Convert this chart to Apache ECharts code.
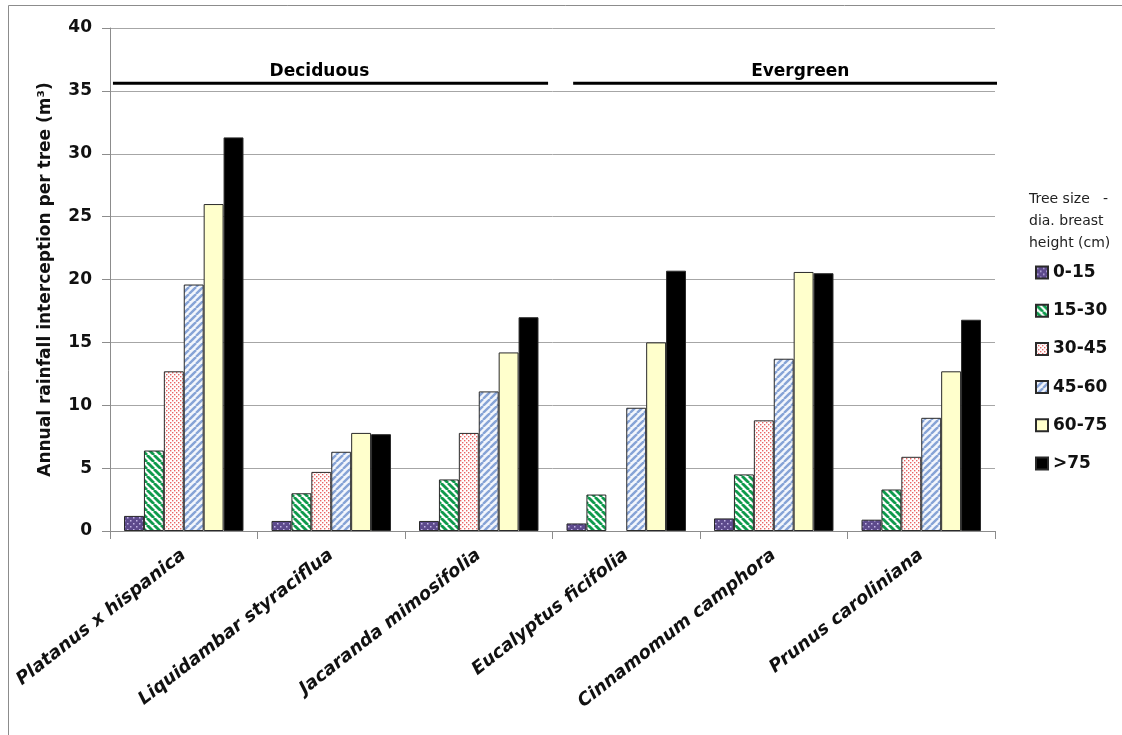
<!DOCTYPE html>
<html><head><meta charset="utf-8">
<script src="https://cdn.jsdelivr.net/npm/echarts@6/dist/echarts.min.js"></script>
<style>html,body{margin:0;padding:0;background:#fff}#c{width:1122px;height:735px}</style>
</head><body><div id="c"></div><script>
// ---- data ----
const species = ['Platanus x hispanica','Liquidambar styraciflua','Jacaranda mimosifolia','Eucalyptus ficifolia','Cinnamomum camphora','Prunus caroliniana'];
const sizeClasses = ['0-15','15-30','30-45','45-60','60-75','>75'];
const size0_15  = [1.2, 0.8, 0.8, 0.6, 1.0, 0.9];
const size15_30 = [6.4, 3.0, 4.1, 2.9, 4.5, 3.3];
const size30_45 = [12.7, 4.7, 7.8, null, 8.8, 5.9];
const size45_60 = [19.6, 6.3, 11.1, 9.8, 13.7, 9.0];
const size60_75 = [26.0, 7.8, 14.2, 15.0, 20.6, 12.7];
const size75up  = [31.3, 7.7, 17.0, 20.7, 20.5, 16.8];
const yTickLabels = ['0','5','10','15','20','25','30','35','40'];
const groupNames = ['Deciduous', 'Evergreen'];
const groupFrom = [0.02, 3.14];      // in category units along the axis
const groupTo = [2.97, 6.08];
const groupLineLevel = 35.6;
const groupLabelAt = [1.42, 4.68];
const groupLabelLevel = 36.55;

// ---- patterns ----
function tile(w, h, draw) {
  const c = document.createElement('canvas');
  c.width = w; c.height = h;
  const g = c.getContext('2d');
  draw(g, w, h);
  return { image: c, repeat: 'repeat' };
}
const pPurple = tile(6, 6, (g, w, h) => {
  g.fillStyle = '#5d4a8c'; g.fillRect(0, 0, w, h);
  g.fillStyle = '#c4b6e6'; g.fillRect(1, 1, 1.5, 1.5); g.fillRect(4, 4, 1.5, 1.5);
});
const pGreen = tile(7, 7, (g, w, h) => {
  g.fillStyle = '#ffffff'; g.fillRect(0, 0, w, h);
  g.strokeStyle = '#0f9a4c'; g.lineWidth = 2.8;
  for (const x0 of [-7, 0, 7]) { g.beginPath(); g.moveTo(x0, 0); g.lineTo(x0 + 7, 7); g.stroke(); }
});
const pPink = tile(4, 4, (g, w, h) => {
  g.fillStyle = '#ffffff'; g.fillRect(0, 0, w, h);
  g.fillStyle = '#e86464'; g.fillRect(0, 0, 1.4, 1.4); g.fillRect(2, 2, 1.4, 1.4);
});
const pBlue = tile(7, 7, (g, w, h) => {
  g.fillStyle = '#f3f6fc'; g.fillRect(0, 0, w, h);
  g.strokeStyle = '#86a3d6'; g.lineWidth = 2.4;
  for (const x0 of [-7, 0, 7]) { g.beginPath(); g.moveTo(x0, 7); g.lineTo(x0 + 7, 0); g.stroke(); }
});
const fills = [pPurple, pGreen, pPink, pBlue, '#ffffcc', '#000000'];
const values = [size0_15, size15_30, size30_45, size45_60, size60_75, size75up];

const FONT = 'DejaVu Sans';
const barSeries = sizeClasses.map((name, i) => ({
  name, type: 'bar', data: values[i], barGap: '0%', barCategoryGap: '19%',
  itemStyle: { color: fills[i], borderColor: '#2a2a2a', borderWidth: 1 }
}));

const groupLineSeries = groupNames.map((g, i) => ({
  type: 'line', xAxisIndex: 1, clip: false, symbol: 'none', silent: true,
  data: [[groupFrom[i], groupLineLevel], [groupTo[i], groupLineLevel]],
  lineStyle: { color: '#000', width: 3 }
}));
const groupLabelSeries = {
  type: 'scatter', xAxisIndex: 1, symbolSize: 0, silent: true, clip: false,
  itemStyle: { opacity: 1 },
  data: groupNames.map((g, i) => ({ name: g, value: [groupLabelAt[i], groupLabelLevel] })),
  label: { show: true, position: 'inside', formatter: p => p.name,
    fontFamily: FONT, fontWeight: 'bold', fontSize: 17, color: '#000' }
};

const chart = echarts.init(document.getElementById('c'), null, { renderer: 'canvas' });
chart.setOption({
  animation: false,
  backgroundColor: '#fff',
  graphic: [{ type: 'rect', shape: { x: 8.5, y: 5.5, width: 1130, height: 740 },
    style: { fill: 'none', stroke: '#8c8c8c', lineWidth: 1 }, silent: true }],
  title: {
    text: 'Tree size   -\ndia. breast\nheight (cm)', left: 1024, top: 183,
    textStyle: { fontFamily: FONT, fontWeight: 'normal', fontSize: 14, lineHeight: 22, color: '#222' }
  },
  legend: {
    data: sizeClasses, orient: 'vertical', left: 1030, top: 259,
    icon: 'rect', itemWidth: 12, itemHeight: 12, itemGap: 21.2,
    textStyle: { fontFamily: FONT, fontWeight: 'bold', fontSize: 17, color: '#111' }
  },
  grid: { left: 110, right: 127, top: 28, bottom: 204, containLabel: false },
  xAxis: [{
    type: 'category', data: species, boundaryGap: true,
    axisLine: { lineStyle: { color: '#8c8c8c' } },
    axisTick: { show: true, length: 8, alignWithLabel: false, lineStyle: { color: '#8c8c8c' } },
    axisLabel: { rotate: 38, margin: 22, interval: 0, fontFamily: FONT, fontWeight: 'bold',
      fontStyle: 'italic', fontSize: 18, color: '#111' }
  }, {
    type: 'value', min: 0, max: 6, show: false
  }],
  yAxis: {
    type: 'value', min: 0, max: 40, interval: 5,
    name: 'Annual rainfall interception per tree (m³)', nameLocation: 'middle', nameGap: 56,
    nameTextStyle: { fontFamily: FONT, fontWeight: 'bold', fontSize: 17, color: '#111' },
    axisLine: { show: true, lineStyle: { color: '#8c8c8c' } },
    axisTick: { show: true, length: 8, lineStyle: { color: '#8c8c8c' } },
    axisLabel: { margin: 18, fontFamily: FONT, fontWeight: 'bold', fontSize: 17, color: '#111',
      formatter: (v) => yTickLabels[Math.round(v / 5)] },
    splitLine: { show: true, lineStyle: { color: '#a6a6a6', width: 1 } }
  },
  series: [...barSeries, ...groupLineSeries, groupLabelSeries]
});
</script></body></html>
